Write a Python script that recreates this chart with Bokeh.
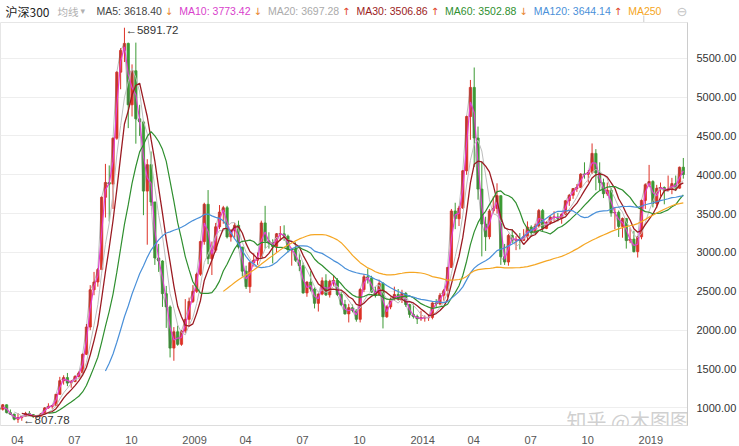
import numpy as np
import pandas as pd
from bokeh.plotting import figure
from bokeh.layouts import column
from bokeh.models import Range1d, FixedTicker, NumeralTickFormatter, Label
from bokeh.embed import file_html
from bokeh.resources import INLINE

# ---------------- data: CSI 300 (沪深300), one candle per month, 2005-01 .. 2020-01 ----------------
first_month = "2005-01"

opens = [
    1000, 982, 1040, 940, 920, 855, 875, 890, 930, 915, 890, 895,            # 2005
    923, 1000, 1020, 1030, 1175, 1350, 1390, 1320, 1340, 1405, 1450, 1690,    # 2006
    2041, 2520, 2620, 2780, 3710, 3900, 3880, 4470, 5320, 5600, 5690, 4900,   # 2007
    5338, 4720, 4680, 3790, 4130, 3650, 2930, 2890, 2470, 2300, 1770, 1980,   # 2008
    1818, 1990, 2140, 2370, 2500, 2720, 3140, 3620, 2920, 3030, 3330, 3520,   # 2009
    3576, 3200, 3280, 3350, 3070, 2760, 2560, 2870, 2900, 2935, 3380, 3150,   # 2010
    3128, 3076, 3240, 3240, 3210, 3040, 3044, 2900, 2830, 2480, 2620, 2530,   # 2011
    2346, 2465, 2635, 2455, 2630, 2640, 2460, 2330, 2210, 2290, 2255, 2140,   # 2012
    2523, 2687, 2673, 2495, 2452, 2603, 2172, 2300, 2400, 2460, 2410, 2475,   # 2013
    2330, 2203, 2178, 2146, 2160, 2160, 2165, 2350, 2338, 2450, 2508, 2808,   # 2014
    3534, 3434, 3572, 4051, 4749, 5124, 4473, 3816, 3366, 3203, 3534, 3566,   # 2015
    3731, 2946, 2877, 3218, 3156, 3169, 3154, 3203, 3327, 3253, 3336, 3539,   # 2016
    3310, 3387, 3452, 3456, 3439, 3492, 3666, 3737, 3822, 3837, 4007, 4006,   # 2017
    4030, 4275, 4023, 3898, 3756, 3802, 3510, 3517, 3335, 3438, 3153, 3172,   # 2018
    3011, 3201, 3670, 3872, 3913, 3630, 3826, 3836, 3799, 3815, 3886, 3828,   # 2019
    4097,                                                                     # 2020
]
highs = [
    1008, 1050, 1045, 980, 925, 935, 900, 950, 960, 920, 905, 935,
    1010, 1060, 1040, 1180, 1400, 1420, 1450, 1360, 1420, 1470, 1700, 2080,
    2580, 2750, 2800, 3720, 4140, 4120, 4480, 5330, 5630, 5891.72, 5700, 5420,
    5700, 4900, 4700, 4200, 4300, 3650, 3110, 2900, 2570, 2320, 2040, 2060,
    2000, 2400, 2420, 2580, 2740, 3150, 3640, 3803, 3140, 3380, 3610, 3600,
    3600, 3300, 3380, 3410, 3070, 2830, 2880, 2990, 3000, 3410, 3600, 3260,
    3170, 3250, 3340, 3350, 3230, 3060, 3130, 2990, 2870, 2630, 2760, 2550,
    2470, 2680, 2720, 2650, 2710, 2670, 2490, 2390, 2340, 2330, 2270, 2540,
    2720, 2790, 2700, 2560, 2650, 2620, 2320, 2420, 2560, 2530, 2520, 2490,
    2340, 2330, 2200, 2250, 2190, 2200, 2360, 2400, 2480, 2530, 2810, 3560,
    3640, 3600, 4060, 4760, 5220, 5380, 4620, 4170, 3460, 3560, 3720, 3890,
    3735, 3110, 3240, 3300, 3210, 3250, 3300, 3400, 3350, 3370, 3560, 3560,
    3400, 3480, 3530, 3510, 3500, 3670, 3750, 3830, 3880, 4020, 4160, 4060,
    4403, 4330, 4160, 3950, 3900, 3830, 3580, 3540, 3450, 3440, 3320, 3280,
    3210, 3680, 3890, 4127, 3930, 3870, 3900, 3850, 3990, 3960, 3990, 4105,
    4216,
]
lows = [
    950, 965, 930, 910, 840, 807.78, 835, 885, 900, 870, 870, 890,
    915, 990, 990, 1025, 1170, 1300, 1280, 1260, 1330, 1390, 1440, 1680,
    2000, 2450, 2560, 2780, 3450, 3400, 3560, 4450, 5100, 5450, 4600, 4750,
    4400, 4500, 3480, 3100, 3600, 2840, 2750, 2300, 2030, 1650, 1607, 1800,
    1800, 1960, 2050, 2350, 2480, 2700, 3100, 2850, 2710, 3000, 3300, 3370,
    3180, 3140, 3190, 3050, 2690, 2530, 2480, 2820, 2840, 2920, 3050, 3050,
    2860, 3000, 3150, 3150, 3000, 2830, 2880, 2760, 2470, 2430, 2500, 2280,
    2240, 2450, 2440, 2420, 2570, 2440, 2310, 2200, 2100, 2230, 2110, 2100,
    2490, 2600, 2480, 2420, 2440, 2023, 2160, 2270, 2380, 2380, 2350, 2300,
    2160, 2150, 2080, 2120, 2110, 2120, 2140, 2300, 2320, 2380, 2420, 2800,
    3300, 3340, 3560, 4000, 4450, 4100, 3680, 2950, 3020, 3170, 3500, 3500,
    2840, 2840, 2830, 3120, 3030, 3040, 3150, 3150, 3200, 3240, 3320, 3270,
    3300, 3360, 3400, 3400, 3370, 3480, 3600, 3690, 3780, 3830, 3950, 3900,
    4010, 3800, 3800, 3700, 3730, 3460, 3300, 3200, 3190, 3050, 3120, 3000,
    2935, 3170, 3560, 3840, 3580, 3570, 3720, 3620, 3790, 3750, 3790, 3820,
    3950,
]
closes = [
    982, 1040, 940, 920, 855, 875, 890, 930, 915, 890, 895, 923,
    1000, 1020, 1030, 1175, 1350, 1390, 1320, 1340, 1405, 1450, 1690, 2041,
    2520, 2620, 2780, 3710, 3900, 3880, 4470, 5320, 5600, 5690, 4900, 5338,
    4720, 4680, 3790, 4130, 3650, 2930, 2890, 2470, 2300, 1770, 1980, 1818,
    1990, 2140, 2370, 2500, 2720, 3140, 3620, 2920, 3030, 3330, 3520, 3576,
    3200, 3280, 3350, 3070, 2760, 2560, 2870, 2900, 2935, 3380, 3150, 3128,
    3076, 3240, 3240, 3210, 3040, 3044, 2900, 2830, 2480, 2620, 2530, 2346,
    2465, 2635, 2455, 2630, 2640, 2460, 2330, 2210, 2290, 2255, 2140, 2523,
    2687, 2673, 2495, 2452, 2603, 2172, 2300, 2400, 2460, 2410, 2475, 2330,
    2203, 2178, 2146, 2160, 2160, 2165, 2350, 2338, 2450, 2508, 2808, 3534,
    3434, 3572, 4051, 4749, 5124, 4473, 3816, 3366, 3203, 3534, 3566, 3731,
    2946, 2877, 3218, 3156, 3169, 3154, 3203, 3327, 3253, 3336, 3539, 3310,
    3387, 3452, 3456, 3439, 3492, 3666, 3737, 3822, 3837, 4007, 4006, 4030,
    4275, 4023, 3898, 3756, 3802, 3510, 3517, 3335, 3438, 3153, 3172, 3011,
    3201, 3670, 3872, 3913, 3630, 3826, 3836, 3799, 3815, 3886, 3828, 4097,
    4003,
]

# moving averages (weekly MAs of the original, expressed as month windows)
ma_names = ["MA5", "MA10", "MA20", "MA30", "MA60", "MA120", "MA250"]
ma_windows = [1, 2, 5, 7, 14, 29, 60]
ma_values = ["3618.40", "3773.42", "3697.28", "3506.86", "3502.88", "3644.14", ""]
ma_arrows = ["↓", "↓", "↑", "↑", "↓", "↑", ""]

# x tick labels: month index (from first_month) and text
tick_months = [3, 18, 33, 48, 63, 78, 93, 108, 123, 138, 153, 168]
tick_labels = ["04", "07", "10", "2009", "04", "07", "10", "2014", "04", "07", "10", "2019"]
y_ticks = [1000, 1500, 2000, 2500, 3000, 3500, 4000, 4500, 5000, 5500]

max_label = "5891.72"
min_label = "807.78"
title_text = "沪深300"
watermark = "知乎 @木图图"

# ---------------- layout constants ----------------
W = 739
HEAD_H = 22
MAIN_H = 446 - HEAD_H
BOTTOM, RIGHT = 17, 47
FONT = "Liberation Sans"
CJK = "Noto Sans CJK SC"

ma_colors = ["#555555", "#e03fd0", "#bdbdbd", "#9b1b22", "#2f8f2f", "#4a90d9", "#f5a623"]
ma_text_colors = ["#444444", "#d93fcc", "#aaaaaa", "#9b1b22", "#2f8f2f", "#4a90d9", "#f5a623"]
ma_widths = [0.8, 1.2, 1.0, 1.3, 1.2, 1.2, 1.2]
ma_alpha = [0.5, 1, 1, 1, 1, 1, 1]

# Arial-like advance widths (em) used to lay the header row out
ADV = {"M": 0.833, "A": 0.667, ":": 0.278, " ": 0.278, ".": 0.278}


def text_w(s, size):
    return sum(ADV.get(ch, 0.556) for ch in s) * size


# ---------------- header strip ----------------
head = figure(width=W, height=HEAD_H, output_backend="svg", toolbar_location=None,
              x_range=Range1d(0, W), y_range=Range1d(0, HEAD_H),
              min_border=0, x_axis_location=None, y_axis_location=None)
head.outline_line_color = None
head.grid.visible = False
head.background_fill_color = "white"
head.border_fill_color = "white"


def head_label(txt, x0, col, font, size):
    head.add_layout(Label(x=x0, y=HEAD_H / 2 + 0.5, x_units="screen", y_units="screen", text=txt,
                          text_font=font, text_font_size=size, text_color=col,
                          text_baseline="middle", text_align="left"))


head_label(title_text, 5, "#222222", CJK, "12px")
head_label("均线", 57, "#b0b0b0", CJK, "10.5px")
head_label("▾", 80, "#b0b0b0", "DejaVu Sans", "9px")

HS = 10.5
arrow_colors = {"↓": "#e8832a", "↑": "#e0442a"}
cur = 96.0
for name, val, arr, tc in zip(ma_names, ma_values, ma_arrows, ma_text_colors):
    txt = name + (": " + val if val else "")
    head_label(txt, cur, tc, FONT, f"{HS}px")
    cur += text_w(txt, HS)
    if arr:
        head_label(arr, cur + 3, arrow_colors[arr], "DejaVu Sans", "10px")
        cur += 17.4

for ic, ix in zip(["⊖", "⊕", "⚙", "⊗"], [676, 692, 710, 727]):
    head_label(ic, ix, "#c4c4c4", "DejaVu Sans", "13px")
head.segment(x0=[W - RIGHT], y0=[0], x1=[W - RIGHT], y1=[7], line_color="#cccccc", line_width=1)

# ---------------- main chart ----------------
p = figure(width=W, height=MAIN_H, output_backend="svg", toolbar_location=None,
           x_range=Range1d(0.9, 181.6), y_range=Range1d(774, 5959),
           y_axis_location="right", min_border_left=0, min_border_right=RIGHT,
           min_border_top=0, min_border_bottom=BOTTOM)
p.background_fill_color = "white"
p.border_fill_color = "white"
p.outline_line_color = "#e6e6e6"

n = len(closes)
x = np.arange(n) + 0.5
o = np.array(opens, dtype=float)
c = np.array(closes, dtype=float)
hi = np.array(highs, dtype=float)
lo = np.array(lows, dtype=float)
up = c >= o
UP, DOWN = "#dd3126", "#3c9a34"
colors = np.where(up, UP, DOWN)

p.segment(x0=x, y0=hi, x1=x, y1=lo, color=colors, line_width=1)
p.vbar(x=x, width=0.6, top=np.maximum(o, c), bottom=np.minimum(o, c),
       fill_color=colors, line_color=colors, line_width=0.8)

cs = pd.Series(c)
for name, w, col, lw, a in zip(ma_names, ma_windows, ma_colors, ma_widths, ma_alpha):
    ma = cs.rolling(w).mean().to_numpy()
    p.line(x, ma, color=col, line_width=lw, alpha=a)

# axes
p.yaxis.ticker = FixedTicker(ticks=y_ticks)
p.yaxis.formatter = NumeralTickFormatter(format="0.00")
p.yaxis.major_tick_line_color = None
p.yaxis.minor_tick_line_color = None
p.yaxis.axis_line_color = "#cccccc"
p.yaxis.major_label_text_font = FONT
p.yaxis.major_label_text_font_size = "11px"
p.yaxis.major_label_text_color = "#333333"
p.yaxis.major_label_standoff = 3

# the reference writes each date label starting at its month, so centre the label past it
px_per_month = (W - RIGHT) / (181.6 - 0.9)
xt = [m + 0.5 + (1 + 3.05 * len(s)) / px_per_month for m, s in zip(tick_months, tick_labels)]
p.xaxis.ticker = FixedTicker(ticks=xt)
p.xaxis.major_label_overrides = {t: s for t, s in zip(xt, tick_labels)}
p.xaxis.major_tick_line_color = None
p.xaxis.minor_tick_line_color = None
p.xaxis.axis_line_color = "#dddddd"
p.xaxis.major_label_text_font = FONT
p.xaxis.major_label_text_font_size = "11px"
p.xaxis.major_label_text_color = "#555555"
p.xaxis.major_label_standoff = 4

p.xgrid.grid_line_color = None
p.ygrid.ticker = FixedTicker(ticks=y_ticks)
p.ygrid.grid_line_color = "#eeeeee"

# extreme labels
imax = int(np.argmax(hi))
imin = int(np.argmin(lo))
p.add_layout(Label(x=x[imax], y=hi[imax], text="←" + max_label, text_font=FONT,
                   text_font_size="11.5px", text_color="#333333", text_baseline="middle",
                   text_align="left", x_offset=1, y_offset=-2))
p.add_layout(Label(x=x[imin], y=lo[imin], text="←" + min_label, text_font=FONT,
                   text_font_size="11.5px", text_color="#333333", text_baseline="middle",
                   text_align="left", x_offset=5, y_offset=3))

# watermark (kept inside the plot frame)
p.add_layout(Label(x=566, y=5, x_units="screen", y_units="screen", text=watermark,
                   text_font=CJK, text_font_size="20px", text_color="#c4c4c4",
                   text_alpha=0.8, text_baseline="middle", text_align="left"))

layout = column(head, p, spacing=0)
open("out.html", "w").write(file_html(layout, INLINE))
